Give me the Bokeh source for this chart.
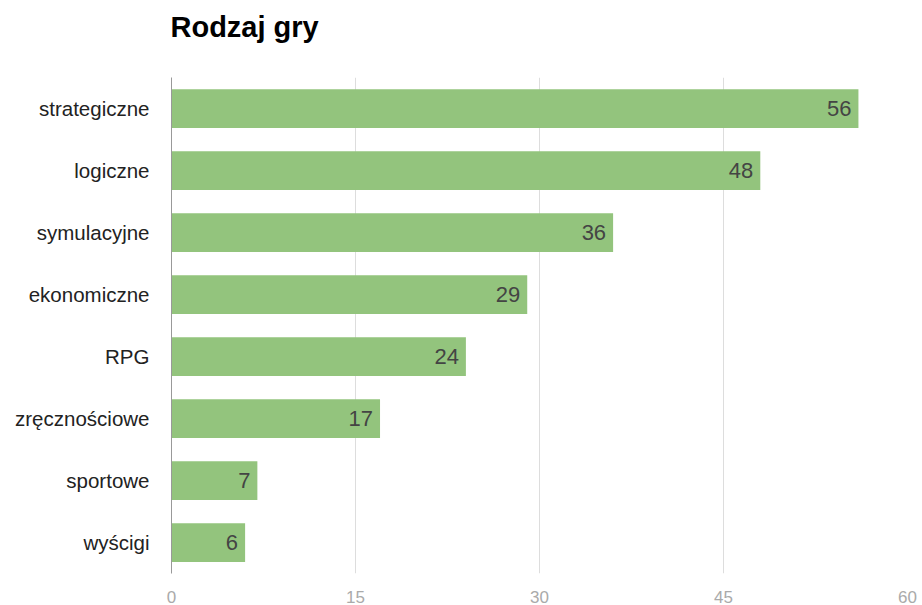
from bokeh.plotting import figure
from bokeh.models import ColumnDataSource, FactorRange, Range1d, FixedTicker, Title
from bokeh.core.properties import value
from bokeh.embed import file_html
from bokeh.resources import INLINE

title_text = "Rodzaj gry"
categories = ["strategiczne", "logiczne", "symulacyjne", "ekonomiczne", "RPG",
              "zręcznościowe", "sportowe", "wyścigi"]
values = [56, 48, 36, 29, 24, 17, 7, 6]
x_ticks = [0, 15, 30, 45, 60]

FONT = "Liberation Sans"

src = ColumnDataSource(dict(cat=categories, val=values, lab=[str(v) for v in values]))

p = figure(width=922, height=605, output_backend="svg", toolbar_location=None,
           title=None,
           y_range=FactorRange(factors=list(reversed(categories)), range_padding=0),
           x_range=Range1d(0, 60),
           min_border_left=171, min_border_right=15, min_border_top=77, min_border_bottom=29)

# spacer keeps the title well above the plot area
spacer = Title(text=" ", text_font_size="1px", standoff=32, text_color="white")
p.add_layout(spacer, "above")
title = Title(text=title_text, text_font=FONT, text_font_size="29px",
              text_font_style="bold", text_color="#000000", align="left",
              offset=-1, standoff=0)
p.add_layout(title, "above")

p.outline_line_color = None
p.background_fill_color = "white"
p.border_fill_color = "white"

p.hbar(y="cat", right="val", left=0, height=0.625, source=src,
       fill_color="#93c47d", line_color=None)

p.text(x="val", y="cat", text="lab", source=src, x_offset=-7,
       text_align="right", text_baseline="middle",
       text_font=value(FONT), text_font_size="22px", text_color="#444444")

p.ygrid.grid_line_color = None
p.xgrid.grid_line_color = "#dddddd"
p.xgrid.grid_line_width = 1
p.xaxis.ticker = FixedTicker(ticks=x_ticks)

p.xaxis.axis_line_color = None
p.xaxis.major_tick_line_color = None
p.xaxis.minor_tick_line_color = None
p.xaxis.major_label_text_color = "#aaaaaa"
p.xaxis.major_label_text_font = FONT
p.xaxis.major_label_text_font_size = "17px"
p.xaxis.major_label_standoff = 11

p.yaxis.axis_line_color = "#999999"
p.yaxis.axis_line_width = 1
p.yaxis.major_tick_line_color = None
p.yaxis.minor_tick_line_color = None
p.yaxis.major_label_text_color = "#222222"
p.yaxis.major_label_text_font = FONT
p.yaxis.major_label_text_font_size = "20.5px"
p.yaxis.major_label_standoff = 16

open("out.html", "w").write(file_html(p, INLINE))
